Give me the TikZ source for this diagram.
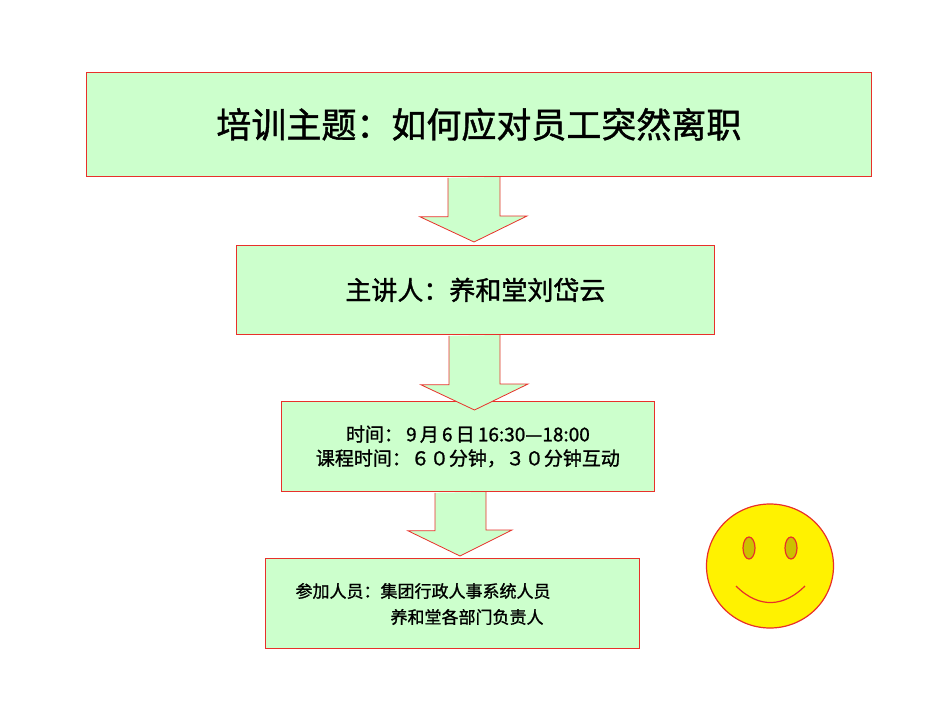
\documentclass[tikz,border=0pt]{standalone}
\usepackage{fontspec}
\setmainfont{Liberation Sans}
\newfontfamily\cjk[FakeBold=1.2]{Noto Sans CJK SC}
\usetikzlibrary{calc}
\definecolor{boxg}{HTML}{CCFFCC}
\definecolor{boxr}{HTML}{E8302A}
\definecolor{eyec}{HTML}{CCC000}
\tikzset{
 gbox/.style={draw=boxr,fill=boxg,line width=0.8pt,inner sep=0pt,anchor=north west},
 garrow/.style={draw=boxr,fill=boxg,line width=0.8pt,line join=miter},
}
\begin{document}
\begin{tikzpicture}[x=1pt,y=-1pt]
\useasboundingbox (0,0) rectangle (950,713);
\node[gbox,minimum width=785pt,minimum height=104pt] (b1) at (86,72) {};
\node[font=\cjk\fontsize{35}{40}\selectfont] (t1) at (b1.center) {培训主题：如何应对员工突然离职};
\node[gbox,minimum width=478pt,minimum height=89pt] (b2) at (236,245) {};
\node[font=\cjk\fontsize{26}{30}\selectfont] (t2) at (b2.center) {主讲人：养和堂刘岱云};
\node[gbox,minimum width=373pt,minimum height=90pt] (b3) at (281,401) {};
\node[align=center,font=\cjk\fontsize{19}{24}\selectfont] (t3) at (b3.center) {时间：\,9\,月\,6\,日\,16:30—18:00\\ 课程时间：６０分钟，３０分钟互动};
\node[gbox,minimum width=374pt,minimum height=90pt] (b4) at (265,558) {};
\node[anchor=west,font=\cjk\fontsize{17}{20}\selectfont] (t4a) at (292,591) {参加人员：集团行政人事系统人员};
\node[anchor=west,font=\cjk\fontsize{17}{20}\selectfont] (t4b) at (387,617) {养和堂各部门负责人};
% arrows
\draw[garrow] ($(b1.south west)+(362,1)$) -- ++(0,39) -- ++(-28,0) -- (474,242) -- (527,216) -- ++(-27,0) -- ++(0,-39);
\draw[garrow] ($(b2.south west)+(213,1)$) -- ++(0,49) -- ++(-28,0) -- (474.5,410) -- (528,384) -- ++(-28,0) -- ++(0,-49);
\draw[garrow] ($(b3.south west)+(154,1)$) -- ++(0,38) -- ++(-27,0) -- (460,556) -- (512,530) -- ++(-26,0) -- ++(0,-38);
% smiley
\draw[draw=boxr,fill=yellow,line width=1.2pt] (770,566) ellipse (63.5 and 62);
\draw[draw=boxr,fill=eyec,line width=1.2pt] (749,548) ellipse (6 and 11);
\draw[draw=boxr,fill=eyec,line width=1.2pt] (791,548) ellipse (6 and 11);
\draw[boxr,line width=1.2pt] (736,586) .. controls (760,610) and (785,606) .. (805,586);
\end{tikzpicture}
\end{document}
